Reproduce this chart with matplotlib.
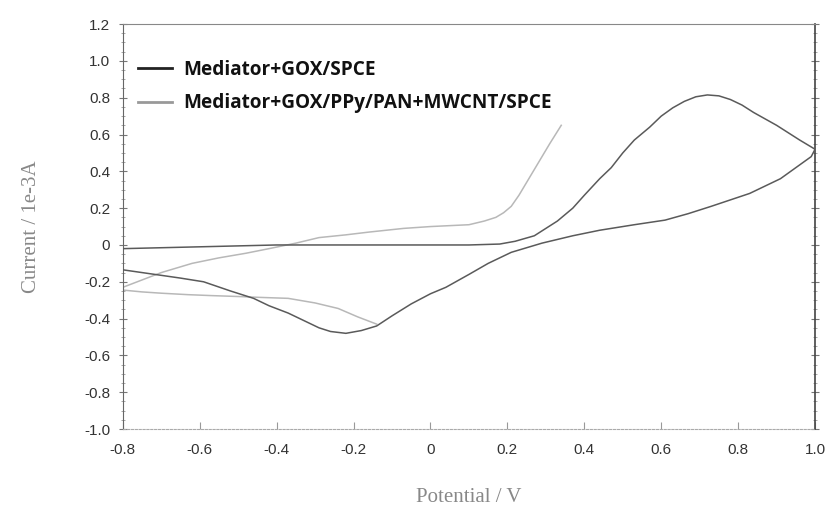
import numpy as np
import matplotlib
matplotlib.use("Agg")
import matplotlib.pyplot as plt
from matplotlib.ticker import MultipleLocator

# Curve A: Mediator+GOX/SPCE (darker)
a_x = [-0.80, -0.70, -0.60, -0.50, -0.40, -0.30, -0.20, -0.10, 0.00, 0.10, 0.18, 0.22, 0.27, 0.30, 0.33,
       0.37, 0.40, 0.44, 0.47, 0.50, 0.53, 0.57, 0.60, 0.63, 0.66, 0.69, 0.72,
       0.75, 0.78, 0.81, 0.84, 0.87, 0.90, 0.93, 0.96, 0.98, 1.00,
       0.99, 0.95, 0.91, 0.87, 0.83, 0.78, 0.73, 0.67, 0.61, 0.53, 0.44, 0.37, 0.29, 0.25, 0.21, 0.15,
       0.10, 0.04, 0.00, -0.05, -0.10, -0.14, -0.18, -0.22, -0.26, -0.29, -0.33, -0.37,
       -0.42, -0.46, -0.52, -0.59, -0.65, -0.70, -0.75, -0.80]
a_y = [-0.02, -0.015, -0.01, -0.005, 0.00, 0.00, 0.00, 0.00, 0.00, 0.00, 0.005, 0.02, 0.05, 0.09, 0.13,
       0.20, 0.27, 0.36, 0.42, 0.50, 0.57, 0.64, 0.70, 0.745, 0.78, 0.805, 0.815,
       0.81, 0.79, 0.76, 0.72, 0.685, 0.65, 0.61, 0.57, 0.545, 0.52,
       0.48, 0.42, 0.36, 0.32, 0.28, 0.245, 0.21, 0.17, 0.135, 0.11, 0.08, 0.05, 0.01, -0.015, -0.04, -0.10,
       -0.16, -0.23, -0.265, -0.32, -0.385, -0.44, -0.465, -0.48, -0.47, -0.45, -0.41, -0.37,
       -0.33, -0.29, -0.25, -0.20, -0.18, -0.165, -0.15, -0.135]

# Curve B: Mediator+GOX/PPy/PAN+MWCNT/SPCE (lighter), forward branch
b_fwd_x = [-0.80, -0.75, -0.70, -0.62, -0.55, -0.48, -0.42, -0.35, -0.29, -0.22, -0.16, -0.07, 0.00, 0.05,
           0.10, 0.14, 0.17, 0.19, 0.21, 0.23, 0.25, 0.27, 0.29, 0.31, 0.34]
b_fwd_y = [-0.23, -0.19, -0.15, -0.10, -0.07, -0.045, -0.02, 0.01, 0.04, 0.055, 0.07, 0.09, 0.10, 0.105,
           0.11, 0.13, 0.15, 0.175, 0.21, 0.27, 0.34, 0.41, 0.48, 0.55, 0.65]
# Curve B, return branch
b_rev_x = [-0.14, -0.19, -0.24, -0.30, -0.37, -0.44, -0.50, -0.57, -0.63, -0.70, -0.75, -0.80]
b_rev_y = [-0.43, -0.39, -0.345, -0.315, -0.29, -0.285, -0.28, -0.275, -0.27, -0.262, -0.255, -0.245]

x_ticks = [-0.8, -0.6, -0.4, -0.2, 0.0, 0.2, 0.4, 0.6, 0.8, 1.0]
x_labels = ["-0.8", "-0.6", "-0.4", "-0.2", "0", "0.2", "0.4", "0.6", "0.8", "1.0"]
y_ticks = [1.2, 1.0, 0.8, 0.6, 0.4, 0.2, 0.0, -0.2, -0.4, -0.6, -0.8, -1.0]
y_labels = ["1.2", "1.0", "0.8", "0.6", "0.4", "0.2", "0", "-0.2", "-0.4", "-0.6", "-0.8", "-1.0"]

fig = plt.figure(figsize=(8.3, 5.12), dpi=100)
ax = fig.add_axes([0.148, 0.162, 0.834, 0.791])

ax.plot(a_x, a_y, color="#5a5a5a", lw=1.1, label="Mediator+GOX/SPCE", zorder=3)
ax.plot(b_fwd_x, b_fwd_y, color="#b8b8b8", lw=1.1, label="Mediator+GOX/PPy/PAN+MWCNT/SPCE", zorder=2)
ax.plot(b_rev_x, b_rev_y, color="#b8b8b8", lw=1.1, zorder=2)

ax.set_xlim(-0.8, 1.0)
ax.set_ylim(-1.0, 1.2)
ax.set_xticks(x_ticks)
ax.set_xticklabels(x_labels)
ax.set_yticks(y_ticks)
ax.set_yticklabels(y_labels)
ax.yaxis.set_minor_locator(MultipleLocator(0.05))

for lab in ax.get_xticklabels() + ax.get_yticklabels():
    lab.set_fontfamily("Liberation Sans")
    lab.set_fontsize(11)
    lab.set_color("#333333")

ax.tick_params(axis="y", which="major", direction="inout", length=6, width=0.8, colors="#777777",
               labelcolor="#333333", right=True, pad=6)
ax.tick_params(axis="y", which="minor", direction="inout", length=3, width=0.6, colors="#999999", right=True)
ax.tick_params(axis="x", which="major", direction="in", length=5, width=0.8, colors="#999999",
               labelcolor="#333333", pad=10)

ax.spines["left"].set_color("#666666")
ax.spines["right"].set_color("#444444")
ax.spines["right"].set_linewidth(1.2)
ax.spines["top"].set_color("#888888")
ax.spines["bottom"].set_color("#aaaaaa")
ax.spines["bottom"].set_linestyle((0, (2, 1.5)))

ax.set_xlabel("Potential / V", fontfamily="Liberation Serif", fontsize=15, color="#888888",
              labelpad=22)
ax.set_ylabel("Current / 1e-3A", fontfamily="Liberation Serif", fontsize=15, color="#888888",
              labelpad=31)

leg = ax.legend(loc="upper left", bbox_to_anchor=(0.0, 0.95), frameon=False,
                prop={"family": "Open Sans", "weight": "bold", "size": 13.7},
                handlelength=1.8, labelspacing=0.72, handletextpad=0.6, borderaxespad=0.4)
for h in leg.get_lines():
    h.set_linewidth(2)
leg.get_lines()[0].set_color("#222222")
leg.get_lines()[1].set_color("#999999")
for t in leg.get_texts():
    t.set_color("#111111")

fig.savefig("out.png", dpi=100)
